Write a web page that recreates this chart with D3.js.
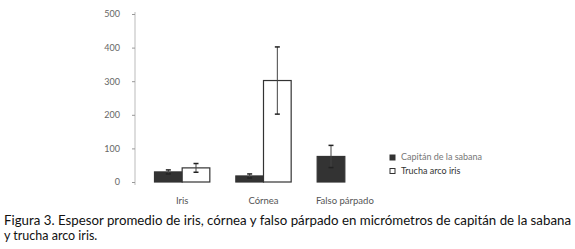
<!DOCTYPE html>
<html>
<head>
<meta charset="utf-8">
<script src="https://cdn.jsdelivr.net/npm/d3@7"></script>
<style>
  body { margin: 0; background: #fff; }
  svg { display: block; }
  .tick text { font-family: Lato, "Open Sans", sans-serif; }
</style>
</head>
<body>
<div id="chart"></div>
<script>
// categories and series
var categories = ["Iris", "Córnea", "Falso párpado"];
var series = ["Capitán de la sabana", "Trucha arco iris"];
var capitan = [30, 18, 76];
var capitanErr = [6, 6, 33];
var trucha = [42, 302, null];
var truchaErr = [13, 100, null];
var yTicks = [0, 100, 200, 300, 400, 500];
var caption = [
  "Figura 3. Espesor promedio de iris, córnea y falso párpado en micrómetros de capitán de la sabana",
  "y trucha arco iris."
];

var width = 575, height = 249;
var svg = d3.select("#chart").append("svg")
  .attr("width", width)
  .attr("height", height);

svg.append("rect").attr("width", width).attr("height", height).attr("fill", "#fff");

// scales
var y = d3.scaleLinear().domain([0, 500]).range([182, 14]);
var x = d3.scaleBand().domain(categories).range([141.5, 385.5]);
var xSub = d3.scaleBand().domain(series).range([13, x.bandwidth() - 13]);

// flatten into rows
var rows = [];
categories.forEach(function(c, i) {
  rows.push({cat: c, s: series[0], v: capitan[i], e: capitanErr[i]});
  if (trucha[i] != null) rows.push({cat: c, s: series[1], v: trucha[i], e: truchaErr[i]});
});

var fills = {"Capitán de la sabana": "#333", "Trucha arco iris": "#fff"};

// y axis
var yAxis = d3.axisLeft(y).tickValues(yTicks).tickSize(3).tickPadding(12);
var gy = svg.append("g").attr("transform", "translate(135,0)").call(yAxis);
gy.select(".domain").attr("stroke", "#bbb").attr("d", "M0,12V185");
gy.selectAll(".tick line").attr("stroke", "#999");
gy.selectAll(".tick text").attr("fill", "#666").attr("font-size", 9);

// category labels
var xAxis = d3.axisBottom(x).tickSize(0).tickPadding(0);
var gx = svg.append("g").attr("transform", "translate(0,197)").call(xAxis);
gx.select(".domain").remove();
gx.selectAll(".tick text").attr("fill", "#555").attr("font-size", 9.5);

// bars
svg.selectAll(".bar")
  .data(rows)
  .enter()
  .append("rect")
  .attr("class", "bar")
  .attr("x", function(d) { return x(d.cat) + xSub(d.s); })
  .attr("y", function(d) { return y(d.v); })
  .attr("width", xSub.bandwidth())
  .attr("height", function(d) { return y(0) - y(d.v); })
  .attr("fill", function(d) { return fills[d.s]; })
  .attr("stroke", "#333")
  .attr("stroke-width", 1.2);

// error bars
var err = svg.selectAll(".err").data(rows).enter().append("g").attr("class", "err")
  .attr("transform", function(d) { return "translate(" + (x(d.cat) + xSub(d.s) + xSub.bandwidth() / 2) + ",0)"; });
err.append("line")
  .attr("y1", function(d) { return y(d.v + d.e); })
  .attr("y2", function(d) { return y(d.v - d.e); })
  .attr("stroke", "#444");
err.selectAll(".cap")
  .data(function(d) { return [d.v + d.e, d.v - d.e]; })
  .enter()
  .append("line")
  .attr("x1", -2.5).attr("x2", 2.5)
  .attr("y1", function(v) { return y(v); })
  .attr("y2", function(v) { return y(v); })
  .attr("stroke", "#222")
  .attr("stroke-width", 1.5);

// legend
var legend = svg.append("g").attr("transform", "translate(390,0)");
var li = legend.selectAll(".li").data(series).enter().append("g")
  .attr("transform", function(d, i) { return "translate(0," + (155 + i * 13.5) + ")"; });
li.append("rect")
  .attr("width", 5).attr("height", 5)
  .attr("fill", function(d) { return fills[d]; })
  .attr("stroke", "#333");
li.append("text")
  .attr("x", 11).attr("y", 5)
  .attr("font-family", "Lato, 'Open Sans', sans-serif")
  .attr("font-size", 9)
  .attr("fill", function(d, i) { return i === 0 ? "#777" : "#333"; })
  .text(function(d) { return d; });

// caption
svg.selectAll(".cap-text")
  .data(caption)
  .enter()
  .append("text")
  .attr("class", "cap-text")
  .attr("x", 4)
  .attr("y", function(d, i) { return 225 + i * 15; })
  .attr("font-family", "Lato, 'Open Sans', sans-serif")
  .attr("font-size", 12.5)
  .attr("fill", "#111")
  .attr("textLength", function(d, i) { return i === 0 ? 567 : null; })
  .attr("lengthAdjust", "spacingAndGlyphs")
  .text(function(d) { return d; });
</script>
</body>
</html>
